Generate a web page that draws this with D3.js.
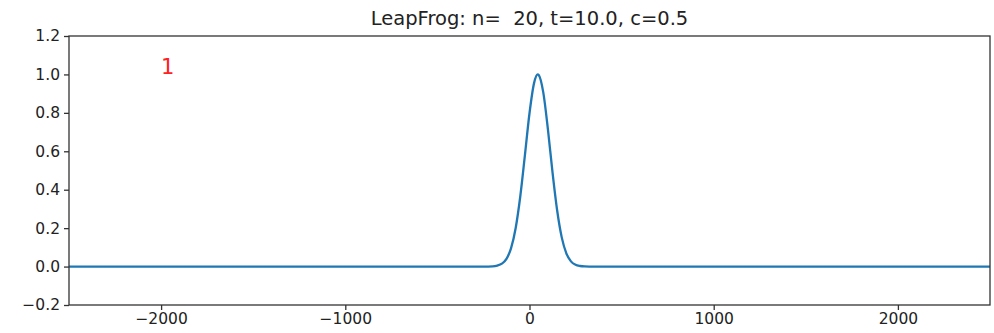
<!DOCTYPE html>
<html>
<head>
<meta charset="utf-8">
<script src="https://cdn.jsdelivr.net/npm/d3@7"></script>
<style>
	body { margin: 0; background: #fff; }
	svg { display: block; font-family: "DejaVu Sans", sans-serif; }
</style>
</head>
<body>
<div id="myChart"></div>
<script>
// wave profile (x position, amplitude)
var xs = [-2500, -300, -250, -200, -175, -150, -125, -100, -75, -50, -25, 0, 25, 45, 50, 75, 100, 125, 150, 175, 200, 225, 250, 275, 300, 350, 2500];
var us = [0, 0, 0, 0.001, 0.005, 0.015, 0.040, 0.096, 0.201, 0.366, 0.579, 0.798, 0.956, 1.0, 0.997, 0.905, 0.714, 0.490, 0.293, 0.152, 0.069, 0.027, 0.009, 0.003, 0.001, 0, 0];

var xTicks = [-2000, -1000, 0, 1000, 2000];
var yTicks = [-0.2, 0.0, 0.2, 0.4, 0.6, 0.8, 1.0, 1.2];
var titleText = 'LeapFrog: n=  20, t=10.0, c=0.5';
var stepLabel = '1';

function plotWave() {
	var width = 994, height = 333;
	var margin = {left: 69, top: 36, right: 4, bottom: 28};

	var svg = d3.select('#myChart')
		.append('svg')
		.attr('width', width)
		.attr('height', height);

	var x = d3.scaleLinear()
		.domain([-2500, 2500])
		.range([margin.left, width - margin.right]);
	var y = d3.scaleLinear()
		.domain([-0.2, 1.2])
		.range([height - margin.bottom, margin.top]);

	// the curve
	var data = xs.map(function (d, i) { return [d, us[i]]; });
	var line = d3.line()
		.curve(d3.curveMonotoneX)
		.x(function (d) { return x(d[0]); })
		.y(function (d) { return y(d[1]); });

	svg.append('path')
		.datum(data)
		.attr('d', line)
		.attr('fill', 'none')
		.attr('stroke', '#1f77b4')
		.attr('stroke-width', 2.3)
		.attr('stroke-linejoin', 'round');

	// frame
	svg.append('rect')
		.attr('x', x(-2500))
		.attr('y', y(1.2))
		.attr('width', x(2500) - x(-2500))
		.attr('height', y(-0.2) - y(1.2))
		.attr('fill', 'none')
		.attr('stroke', '#333')
		.attr('stroke-width', 1.3);

	var xAxis = svg.append('g')
		.attr('transform', 'translate(0,' + y(-0.2) + ')')
		.call(d3.axisBottom(x).tickValues(xTicks).tickSize(5).tickPadding(3)
			.tickFormat(function (d) { return d < 0 ? '\u2212' + Math.abs(d) : d; }));
	var yAxis = svg.append('g')
		.attr('transform', 'translate(' + x(-2500) + ',0)')
		.call(d3.axisLeft(y).tickValues(yTicks).tickSize(5).tickPadding(4)
			.tickFormat(function (d) { return (d < 0 ? '\u2212' : '') + Math.abs(d).toFixed(1); }));

	[xAxis, yAxis].forEach(function (g) {
		g.select('.domain').remove();
		g.selectAll('line').attr('stroke', '#333').attr('stroke-width', 1.3);
		g.selectAll('text')
			.attr('fill', '#222')
			.style('font-size', '15.5px')
			.style('font-family', '"DejaVu Sans", sans-serif');
	});

	svg.append('text')
		.attr('x', (x(-2500) + x(2500)) / 2)
		.attr('y', 25)
		.attr('text-anchor', 'middle')
		.attr('fill', '#222')
		.style('font-size', '19.5px')
		.style('white-space', 'pre')
		.text(titleText);

	svg.append('text')
		.attr('x', x(-2000))
		.attr('y', y(1.0))
		.attr('fill', '#ff2020')
		.style('font-size', '21px')
		.text(stepLabel);
}

plotWave();
</script>
</body>
</html>
